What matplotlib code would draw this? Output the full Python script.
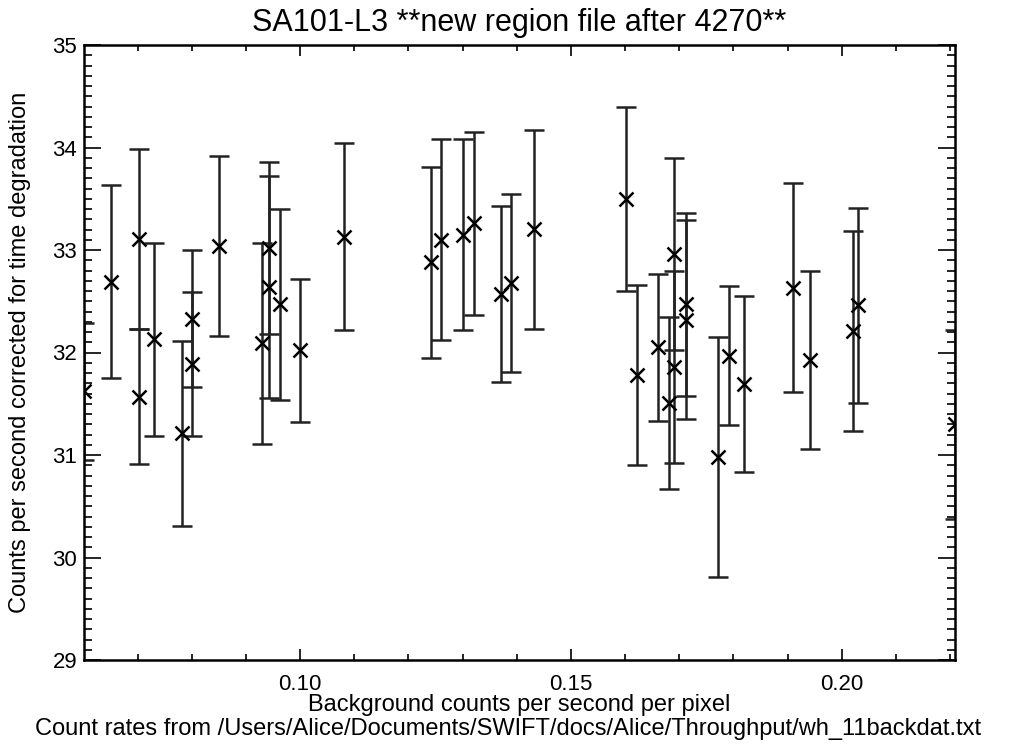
import matplotlib
matplotlib.use("Agg")
import matplotlib.pyplot as plt
from matplotlib.ticker import MultipleLocator, FormatStrFormatter

plt.rcParams['font.family'] = ['Liberation Sans', 'DejaVu Sans']

# Background counts per second per pixel
bkg = [0.0601, 0.0651, 0.0702, 0.0702, 0.0731, 0.0782, 0.0801, 0.0801,
       0.0851, 0.0930, 0.0942, 0.0942, 0.0962, 0.1000, 0.1081, 0.1241,
       0.1260, 0.1301, 0.1321, 0.1370, 0.1390, 0.1431, 0.1601, 0.1621,
       0.1661, 0.1681, 0.1691, 0.1691, 0.1712, 0.1712, 0.1771, 0.1791,
       0.1820, 0.1910, 0.1941, 0.2021, 0.2030, 0.2209]
# Count rates corrected for time degradation
rate = [31.62, 32.69, 33.11, 31.57, 32.13, 31.21, 32.33, 31.89,
        33.04, 32.09, 33.02, 32.64, 32.47, 32.02, 33.13, 32.88,
        33.10, 33.15, 33.26, 32.57, 32.68, 33.20, 33.50, 31.78,
        32.05, 31.51, 32.96, 31.86, 32.47, 32.32, 30.98, 31.97,
        31.69, 32.63, 31.93, 32.21, 32.46, 31.30]
# 1-sigma errors
err = [0.67, 0.94, 0.88, 0.66, 0.94, 0.90, 0.67, 0.70,
       0.88, 0.98, 0.84, 1.08, 0.93, 0.70, 0.91, 0.93,
       0.98, 0.93, 0.89, 0.86, 0.87, 0.97, 0.90, 0.88,
       0.72, 0.84, 0.94, 0.94, 0.89, 0.97, 1.17, 0.68,
       0.86, 1.02, 0.87, 0.98, 0.95, 0.92]

fig = plt.figure(figsize=(10.17, 7.49), dpi=100)
ax = fig.add_axes([84/1017, 1 - 660/749, (955-84)/1017, (660-45)/749])

ax.errorbar(bkg, rate, yerr=err, fmt='x', color='black', ecolor='#222222',
            markersize=10, markeredgewidth=1.8, elinewidth=1.8,
            capsize=7, capthick=1.8)

ax.set_xlim(0.0601, 0.2209)
ax.set_ylim(29, 35)
ax.xaxis.set_major_locator(MultipleLocator(0.05))
ax.xaxis.set_minor_locator(MultipleLocator(0.01))
ax.yaxis.set_major_locator(MultipleLocator(1))
ax.yaxis.set_minor_locator(MultipleLocator(0.1))
ax.xaxis.set_major_formatter(FormatStrFormatter('%.2f'))
ax.tick_params(axis='x', which='major', direction='in', length=8, width=1.2,
               top=True, labelsize=16, pad=10)
ax.tick_params(axis='x', which='minor', direction='in', length=4, width=1.2, top=True)
ax.tick_params(axis='y', which='major', direction='in', length=12, width=1.2,
               right=True, labelsize=16, pad=5)
ax.tick_params(axis='y', which='minor', direction='in', length=6, width=1.2, right=True)
for s in ax.spines.values():
    s.set_linewidth(1.8)

ax.set_title('SA101-L3 **new region file after 4270**', fontsize=22, pad=10)
ax.set_xlabel('Background counts per second per pixel', fontsize=17)
ax.xaxis.label.set_va('center')
ax.xaxis.set_label_coords(0.5, (660 - 705) / 615)
ax.set_ylabel('Counts per second corrected for time degradation', fontsize=17)
ax.yaxis.label.set_va('center')
ax.yaxis.set_label_coords((20 - 84) / 871, 0.5)
fig.text(0.5, 1 - 729/749, 'Count rates from /Users/Alice/Documents/SWIFT/docs/Alice/Throughput/wh_11backdat.txt',
         ha='center', va='center', fontsize=17)

fig.savefig('out.png', dpi=100)
